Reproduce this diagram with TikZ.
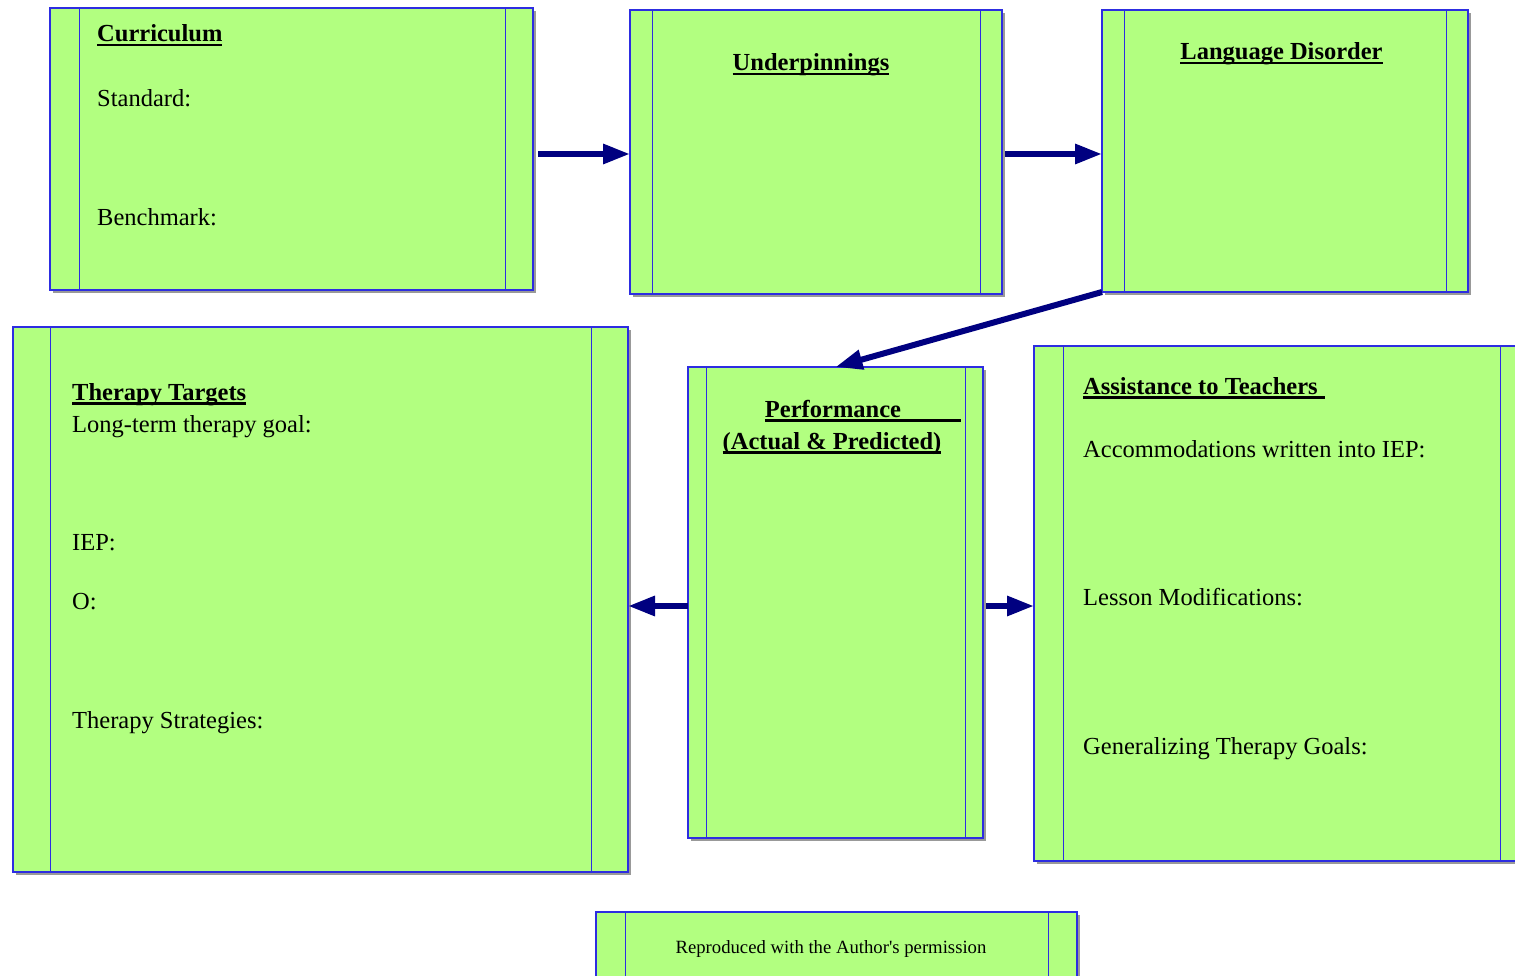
\documentclass[tikz,border=0pt]{standalone}
\usepackage{fontspec}
\setmainfont{Liberation Serif}
\usetikzlibrary{arrows.meta,shadows}
\definecolor{boxgreen}{RGB}{178,255,128}
\definecolor{edgeblue}{RGB}{45,45,225}
\definecolor{linknavy}{RGB}{0,0,128}
\newcommand{\headline}[2][0pt]{\sbox0{\bfseries #2}\rlap{\rule[-4.5pt]{\dimexpr\wd0+#1\relax}{2.4pt}}\usebox0}
\begin{document}
\begin{tikzpicture}[x=1pt,y=-1pt,
    panel/.style={draw=edgeblue,line width=1.3pt,fill=boxgreen,inner sep=0pt,outer sep=0pt,
      drop shadow={shadow xshift=3pt,shadow yshift=-3pt,fill=black!40,opacity=1}},
    rule/.style={draw=edgeblue,line width=0.8pt},
    txt/.style={anchor=base west,inner sep=0pt,font=\fontsize{24.5}{28}\selectfont},
    title/.style={anchor=base,inner sep=0pt,font=\fontsize{24.5}{28}\selectfont},
    link/.style={draw=linknavy,line width=6pt,-{Triangle[length=27pt,width=19pt]}}]
  \useasboundingbox[fill=white] (0,0) rectangle (1515,976);
  \node[panel,minimum width=483pt,minimum height=282pt] (cur) at (291.5,149) {};
  \node[panel,minimum width=372pt,minimum height=284pt] (und) at (816,152) {};
  \node[panel,minimum width=366pt,minimum height=282pt] (lang) at (1285,151) {};
  \node[panel,minimum width=615pt,minimum height=545pt] (tt) at (320.5,599.5) {};
  \node[panel,minimum width=295pt,minimum height=471pt] (perf) at (835.5,602.5) {};
  \node[panel,minimum width=496pt,minimum height=515pt] (asst) at (1282,603.5) {};
  \node[panel,minimum width=481pt,minimum height=73pt] (foot) at (836.5,948.5) {};
  \foreach \n/\l/\r in {cur/29pt/28pt,und/22pt/22pt,lang/22pt/22pt,tt/37pt/37pt,perf/18pt/18pt,asst/29pt/30pt,foot/29pt/29pt}{
    \draw[rule] ([xshift=\l]\n.north west) -- ([xshift=\l]\n.south west);
    \draw[rule] ([xshift=-\r]\n.north east) -- ([xshift=-\r]\n.south east);
  }
  \node[txt] (curT) at (97,42) {\headline{Curriculum}};
  \node[txt] (std) at (97,107) {Standard:};
  \node[txt] (bench) at (97,226) {Benchmark:};
  \node[title] (undT) at (811,71) {\headline{Underpinnings}};
  \node[title] (langT) at (1281.5,60) {\headline{Language Disorder}};
  \node[txt] (ttT) at (72,400) {\headline{Therapy Targets}};
  \node[txt] (goal) at (72,432) {Long-term therapy goal:};
  \node[txt] (iep) at (72,550) {IEP:};
  \node[txt] (obj) at (72,609) {O:};
  \node[txt] (strat) at (72,728) {Therapy Strategies:};
  \node[title] (perfT) at (833,417) {\headline[60pt]{Performance}};
  \node[title] (perfS) at (832,449) {\headline{(Actual \& Predicted)}};
  \node[txt] (asstT) at (1083,394) {\headline[7pt]{Assistance to Teachers}};
  \node[txt] (acc) at (1083,457) {Accommodations written into IEP:};
  \node[txt] (mod) at (1083,605) {Lesson Modifications:};
  \node[txt] (gen) at (1083,754) {Generalizing Therapy Goals:};
  \node[anchor=base,inner sep=0pt,font=\fontsize{18.7}{22}\selectfont] (footT) at (831,953) {Reproduced with the Author\textquotesingle s permission};
  \draw[link,shorten <=5pt] ([yshift=-2pt]cur.east |- und.west) -- ([yshift=-2pt]und.west);
  \draw[link,shorten <=3pt] ([yshift=-3pt]und.east |- lang.west) -- ([yshift=-3pt]lang.west);
  \draw[link] (lang.south west) -- (perf.north);
  \draw[link] ([yshift=-3.5pt]perf.west) -- ([yshift=-3.5pt]perf.west -| tt.east);
  \draw[link,shorten <=3pt] ([yshift=-3.5pt]perf.east) -- ([yshift=-3.5pt]perf.east -| asst.west);
\end{tikzpicture}
\end{document}
